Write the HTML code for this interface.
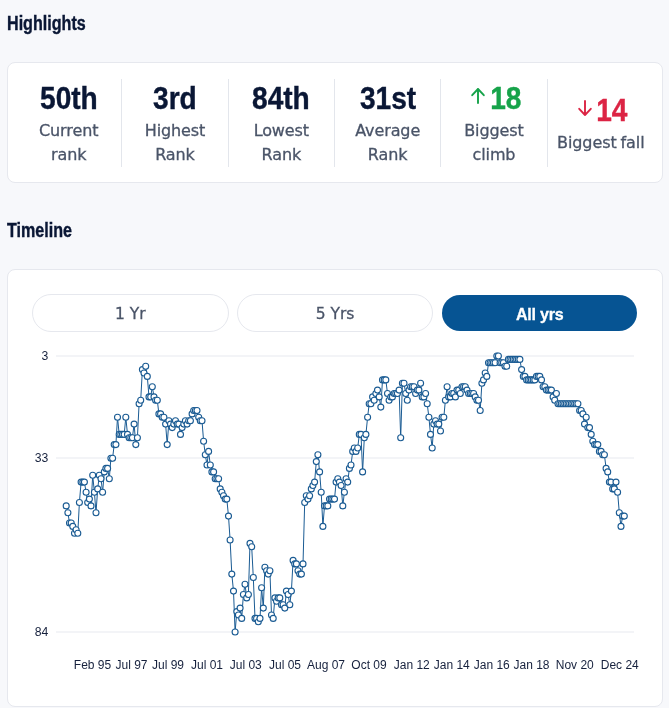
<!DOCTYPE html>
<html><head><meta charset="utf-8"><title>Highlights</title>
<style>
*{box-sizing:border-box;margin:0;padding:0}
html,body{width:669px;height:708px;overflow:hidden}
body{background:#f7f8fb;font-family:"Liberation Sans",sans-serif;position:relative;color:#4a5468}
h2{position:absolute;left:6.5px;-webkit-text-stroke:.4px #0a1735;font-size:20px;line-height:24px;font-weight:bold;color:#0a1735;transform-origin:0 50%;transform:scaleX(.805);white-space:nowrap}
.card{position:absolute;left:7px;width:656px;background:#fff;border:1px solid #e6e8ee;border-radius:8px}
#c1{top:62px;height:121px}
#c2{top:269px;height:438px}
.cols{position:absolute;left:8px;top:16px;width:638px;height:88px;display:flex}
.col{flex:none;width:106.333px;border-right:1px solid #e3e6ec;text-align:center;display:flex;flex-direction:column;justify-content:center}
.col:last-child{border-right:0}
.num{font-size:32px;line-height:36px;height:36px;font-weight:bold;color:#0a1735;white-space:nowrap;display:flex;justify-content:center;align-items:center}
.num span{display:inline-block;-webkit-text-stroke:.4px;transform:scaleX(.878);position:relative;top:1px}
.num svg{margin-right:1px;margin-left:-2px;position:relative;top:-1px}
.num.up svg{margin-left:-3px;margin-right:2px}
.num.down svg{margin-left:-1.5px;margin-right:.5px}
.num.up{padding-left:9px}.num.down{padding-left:6px}
.lbl{font-family:"DejaVu Sans","Liberation Sans",sans-serif;font-size:16px;letter-spacing:-.1px;word-spacing:-1px;-webkit-text-stroke:.3px #4a5468;line-height:24px;margin-top:4px;color:#4a5468}
.up{color:#16a34a}.down{color:#dc2444}
.btns{position:absolute;left:24px;top:24px;width:606px;display:flex;gap:8px}
.btn{flex:1 1 0;height:38px;-webkit-text-stroke:.3px;border:1px solid #e6e8ee;border-radius:19px;background:#fff;text-align:center;line-height:39px;font-family:"DejaVu Sans","Liberation Sans",sans-serif;font-size:15.5px;color:#4a5468}
.btn.on{background:#065493;border-color:transparent;background-clip:padding-box;color:#fff;font-weight:bold;font-family:"Liberation Sans",sans-serif;font-size:16px;letter-spacing:-.2px}
.chart{position:absolute;left:0;top:0}
.ax text{font-size:12px;fill:#16213d;font-family:"Liberation Sans",sans-serif}
.ay text{font-size:12.2px}
</style></head><body>
<h2 style="top:11px">Highlights</h2>
<div class="card" id="c1"><div class="cols">
<div class="col"><div class="num"><span>50th</span></div><div class="lbl">Current<br>rank</div></div>
<div class="col"><div class="num"><span>3rd</span></div><div class="lbl">Highest<br>Rank</div></div>
<div class="col"><div class="num"><span>84th</span></div><div class="lbl">Lowest<br>Rank</div></div>
<div class="col"><div class="num"><span>31st</span></div><div class="lbl">Average<br>Rank</div></div>
<div class="col"><div class="num up"><svg width="16" height="18" viewBox="0 0 16 18" fill="none" stroke="#16a34a" stroke-width="1.9" stroke-linecap="round" stroke-linejoin="round"><path d="M8 16V2M2.2 8.2L8 2l5.8 6.2"/></svg><span>18</span></div><div class="lbl">Biggest<br>climb</div></div>
<div class="col"><div class="num down"><svg width="16" height="18" viewBox="0 0 16 18" fill="none" stroke="#dc2444" stroke-width="1.9" stroke-linecap="round" stroke-linejoin="round"><path d="M8 2v14M2.2 9.8L8 16l5.8-6.2"/></svg><span>14</span></div><div class="lbl">Biggest fall</div></div>
</div></div>
<h2 style="top:218px">Timeline</h2>
<div class="card" id="c2"><div class="btns"><div class="btn">1 Yr</div><div class="btn">5 Yrs</div><div class="btn on">All yrs</div></div></div>
<svg class="chart" width="669" height="708" viewBox="0 0 669 708">
<g stroke="#e7e9f0" stroke-width="1.1"><line x1="56" x2="634" y1="356" y2="356"/><line x1="56" x2="634" y1="458" y2="458"/><line x1="56" x2="634" y1="632" y2="632"/></g>
<g class="ax ay" text-anchor="end"><text x="48.4" y="360">3</text><text x="48.4" y="462">33</text><text x="48.4" y="636">84</text></g>
<g class="ax"><text x="92.5" y="669.3" text-anchor="middle">Feb 95</text><text x="131.5" y="669.3" text-anchor="middle">Jul 97</text><text x="168" y="669.3" text-anchor="middle">Jul 99</text><text x="207" y="669.3" text-anchor="middle">Jul 01</text><text x="245.75" y="669.3" text-anchor="middle">Jul 03</text><text x="285" y="669.3" text-anchor="middle">Jul 05</text><text x="326" y="669.3" text-anchor="middle">Aug 07</text><text x="369" y="669.3" text-anchor="middle">Oct 09</text><text x="411.75" y="669.3" text-anchor="middle">Jan 12</text><text x="451.75" y="669.3" text-anchor="middle">Jan 14</text><text x="491.75" y="669.3" text-anchor="middle">Jan 16</text><text x="531.5" y="669.3" text-anchor="middle">Jan 18</text><text x="574.75" y="669.3" text-anchor="middle">Nov 20</text><text x="619.75" y="669.3" text-anchor="middle">Dec 24</text></g>
<polyline points="66.2,505.9 67.9,512.7 69.5,523.0 71.2,523.0 72.8,526.4 74.5,533.2 76.1,529.8 77.8,533.2 79.4,502.5 81.1,482.1 82.8,482.1 84.4,482.1 86.1,492.3 87.7,502.5 89.4,499.1 91.0,505.9 92.7,475.3 94.4,492.3 96.0,512.7 97.7,488.9 99.3,475.3 101.0,478.7 102.6,492.3 104.3,471.9 105.9,468.4 107.6,468.4 109.3,478.7 110.9,458.2 112.6,458.2 114.2,444.6 115.9,444.6 117.5,417.3 119.2,434.4 120.8,434.4 122.5,434.4 124.2,434.4 125.8,417.3 127.5,434.4 129.1,437.8 130.8,437.8 132.4,437.8 134.1,424.1 135.8,444.6 137.4,437.8 139.1,403.7 140.7,400.3 142.4,369.6 144.0,373.0 145.7,366.2 147.3,376.4 149.0,396.9 150.7,396.9 152.3,386.7 154.0,396.9 155.6,400.3 157.3,400.3 158.9,413.9 160.6,413.9 162.2,417.3 163.9,417.3 165.6,424.1 167.2,444.6 168.9,420.7 170.5,424.1 172.2,427.6 173.8,424.1 175.5,420.7 177.2,424.1 178.8,424.1 180.5,434.4 182.1,427.6 183.8,424.1 185.4,420.7 187.1,424.1 188.7,420.7 190.4,420.7 192.1,413.9 193.7,410.5 195.4,410.5 197.0,410.5 198.7,417.3 200.3,420.7 202.0,420.7 203.6,441.2 205.3,454.8 207.0,465.0 208.6,451.4 210.3,465.0 211.9,471.9 213.6,471.9 215.2,478.7 216.9,478.7 218.6,478.7 220.2,488.9 221.9,492.3 223.5,495.7 225.2,499.1 226.8,499.1 228.5,516.1 230.1,540.0 231.8,574.1 233.5,591.1 235.1,632.0 236.8,611.6 238.4,615.0 240.1,608.1 241.7,618.4 243.4,594.5 245.0,584.3 246.7,597.9 248.4,594.5 250.0,543.4 251.7,546.8 253.3,577.5 255.0,618.4 256.6,618.4 258.3,621.8 260.0,618.4 261.6,587.7 263.3,608.1 264.9,567.3 266.6,570.7 268.2,574.1 269.9,570.7 271.5,615.0 273.2,618.4 274.9,597.9 276.5,601.3 278.2,597.9 279.8,597.9 281.5,604.7 283.1,604.7 284.8,608.1 286.4,591.1 288.1,594.5 289.8,604.7 291.4,591.1 293.1,560.4 294.7,563.9 296.4,563.9 298.0,570.7 299.7,574.1 301.4,574.1 303.0,563.9 304.7,502.5 306.3,495.7 308.0,499.1 309.6,495.7 311.3,488.9 312.9,485.5 314.6,482.1 316.3,461.6 317.9,454.8 319.6,471.9 321.2,492.3 322.9,526.4 324.5,505.9 326.2,505.9 327.8,505.9 329.5,499.1 331.2,499.1 332.8,499.1 334.5,499.1 336.1,482.1 337.8,478.7 339.4,482.1 341.1,485.5 342.8,505.9 344.4,492.3 346.1,478.7 347.7,482.1 349.4,468.4 351.0,465.0 352.7,451.4 354.3,448.0 356.0,451.4 357.7,448.0 359.3,434.4 361.0,434.4 362.6,471.9 364.3,437.8 365.9,434.4 367.6,417.3 369.2,403.7 370.9,403.7 372.6,396.9 374.2,400.3 375.9,393.5 377.5,390.1 379.2,396.9 380.8,407.1 382.5,379.9 384.2,379.9 385.8,379.9 387.5,393.5 389.1,400.3 390.8,396.9 392.4,396.9 394.1,393.5 395.7,393.5 397.4,393.5 399.1,390.1 400.7,437.8 402.4,383.3 404.0,383.3 405.7,393.5 407.3,400.3 409.0,390.1 410.6,386.7 412.3,386.7 414.0,386.7 415.6,393.5 417.3,390.1 418.9,390.1 420.6,383.3 422.2,396.9 423.9,396.9 425.6,393.5 427.2,403.7 428.9,417.3 430.5,434.4 432.2,448.0 433.8,424.1 435.5,420.7 437.1,424.1 438.8,424.1 440.5,431.0 442.1,417.3 443.8,417.3 445.4,400.3 447.1,386.7 448.7,396.9 450.4,396.9 452.0,393.5 453.7,393.5 455.4,396.9 457.0,390.1 458.7,390.1 460.3,393.5 462.0,386.7 463.6,386.7 465.3,386.7 467.0,390.1 468.6,393.5 470.3,393.5 471.9,393.5 473.6,393.5 475.2,396.9 476.9,400.3 478.5,400.3 480.2,410.5 481.9,383.3 483.5,379.9 485.2,373.0 486.8,376.4 488.5,362.8 490.1,362.8 491.8,362.8 493.4,362.8 495.1,362.8 496.8,356.0 498.4,356.0 500.1,362.8 501.7,362.8 503.4,362.8 505.0,366.2 506.7,366.2 508.4,359.4 510.0,359.4 511.7,359.4 513.3,359.4 515.0,359.4 516.6,359.4 518.3,359.4 519.9,359.4 521.6,369.6 523.3,376.4 524.9,376.4 526.6,379.9 528.2,379.9 529.9,379.9 531.5,379.9 533.2,379.9 534.8,379.9 536.5,376.4 538.2,376.4 539.8,376.4 541.5,379.9 543.1,386.7 544.8,386.7 546.4,390.1 548.1,390.1 549.8,390.1 551.4,390.1 553.1,396.9 554.7,400.3 556.4,393.5 558.0,403.7 559.7,403.7 561.3,403.7 563.0,403.7 564.7,403.7 566.3,403.7 568.0,403.7 569.6,403.7 571.3,403.7 572.9,403.7 574.6,403.7 576.2,403.7 577.9,403.7 579.6,410.5 581.2,410.5 582.9,413.9 584.5,424.1 586.2,417.3 587.8,427.6 589.5,427.6 591.2,434.4 592.8,441.2 594.5,444.6 596.1,444.6 597.8,444.6 599.4,451.4 601.1,451.4 602.7,454.8 604.4,454.8 606.1,468.4 607.7,471.9 609.4,482.1 611.0,482.1 612.7,488.9 614.3,488.9 616.0,482.1 617.6,492.3 619.3,512.7 621.0,526.4 622.6,516.1 624.3,516.1" fill="none" stroke="#1a5b93" stroke-width="1"/>
<g fill="#fff" stroke="#1a5b93" stroke-width="1.1"><circle cx="66.2" cy="505.9" r="3"/><circle cx="67.9" cy="512.7" r="3"/><circle cx="69.5" cy="523.0" r="3"/><circle cx="71.2" cy="523.0" r="3"/><circle cx="72.8" cy="526.4" r="3"/><circle cx="74.5" cy="533.2" r="3"/><circle cx="76.1" cy="529.8" r="3"/><circle cx="77.8" cy="533.2" r="3"/><circle cx="79.4" cy="502.5" r="3"/><circle cx="81.1" cy="482.1" r="3"/><circle cx="82.8" cy="482.1" r="3"/><circle cx="84.4" cy="482.1" r="3"/><circle cx="86.1" cy="492.3" r="3"/><circle cx="87.7" cy="502.5" r="3"/><circle cx="89.4" cy="499.1" r="3"/><circle cx="91.0" cy="505.9" r="3"/><circle cx="92.7" cy="475.3" r="3"/><circle cx="94.4" cy="492.3" r="3"/><circle cx="96.0" cy="512.7" r="3"/><circle cx="97.7" cy="488.9" r="3"/><circle cx="99.3" cy="475.3" r="3"/><circle cx="101.0" cy="478.7" r="3"/><circle cx="102.6" cy="492.3" r="3"/><circle cx="104.3" cy="471.9" r="3"/><circle cx="105.9" cy="468.4" r="3"/><circle cx="107.6" cy="468.4" r="3"/><circle cx="109.3" cy="478.7" r="3"/><circle cx="110.9" cy="458.2" r="3"/><circle cx="112.6" cy="458.2" r="3"/><circle cx="114.2" cy="444.6" r="3"/><circle cx="115.9" cy="444.6" r="3"/><circle cx="117.5" cy="417.3" r="3"/><circle cx="119.2" cy="434.4" r="3"/><circle cx="120.8" cy="434.4" r="3"/><circle cx="122.5" cy="434.4" r="3"/><circle cx="124.2" cy="434.4" r="3"/><circle cx="125.8" cy="417.3" r="3"/><circle cx="127.5" cy="434.4" r="3"/><circle cx="129.1" cy="437.8" r="3"/><circle cx="130.8" cy="437.8" r="3"/><circle cx="132.4" cy="437.8" r="3"/><circle cx="134.1" cy="424.1" r="3"/><circle cx="135.8" cy="444.6" r="3"/><circle cx="137.4" cy="437.8" r="3"/><circle cx="139.1" cy="403.7" r="3"/><circle cx="140.7" cy="400.3" r="3"/><circle cx="142.4" cy="369.6" r="3"/><circle cx="144.0" cy="373.0" r="3"/><circle cx="145.7" cy="366.2" r="3"/><circle cx="147.3" cy="376.4" r="3"/><circle cx="149.0" cy="396.9" r="3"/><circle cx="150.7" cy="396.9" r="3"/><circle cx="152.3" cy="386.7" r="3"/><circle cx="154.0" cy="396.9" r="3"/><circle cx="155.6" cy="400.3" r="3"/><circle cx="157.3" cy="400.3" r="3"/><circle cx="158.9" cy="413.9" r="3"/><circle cx="160.6" cy="413.9" r="3"/><circle cx="162.2" cy="417.3" r="3"/><circle cx="163.9" cy="417.3" r="3"/><circle cx="165.6" cy="424.1" r="3"/><circle cx="167.2" cy="444.6" r="3"/><circle cx="168.9" cy="420.7" r="3"/><circle cx="170.5" cy="424.1" r="3"/><circle cx="172.2" cy="427.6" r="3"/><circle cx="173.8" cy="424.1" r="3"/><circle cx="175.5" cy="420.7" r="3"/><circle cx="177.2" cy="424.1" r="3"/><circle cx="178.8" cy="424.1" r="3"/><circle cx="180.5" cy="434.4" r="3"/><circle cx="182.1" cy="427.6" r="3"/><circle cx="183.8" cy="424.1" r="3"/><circle cx="185.4" cy="420.7" r="3"/><circle cx="187.1" cy="424.1" r="3"/><circle cx="188.7" cy="420.7" r="3"/><circle cx="190.4" cy="420.7" r="3"/><circle cx="192.1" cy="413.9" r="3"/><circle cx="193.7" cy="410.5" r="3"/><circle cx="195.4" cy="410.5" r="3"/><circle cx="197.0" cy="410.5" r="3"/><circle cx="198.7" cy="417.3" r="3"/><circle cx="200.3" cy="420.7" r="3"/><circle cx="202.0" cy="420.7" r="3"/><circle cx="203.6" cy="441.2" r="3"/><circle cx="205.3" cy="454.8" r="3"/><circle cx="207.0" cy="465.0" r="3"/><circle cx="208.6" cy="451.4" r="3"/><circle cx="210.3" cy="465.0" r="3"/><circle cx="211.9" cy="471.9" r="3"/><circle cx="213.6" cy="471.9" r="3"/><circle cx="215.2" cy="478.7" r="3"/><circle cx="216.9" cy="478.7" r="3"/><circle cx="218.6" cy="478.7" r="3"/><circle cx="220.2" cy="488.9" r="3"/><circle cx="221.9" cy="492.3" r="3"/><circle cx="223.5" cy="495.7" r="3"/><circle cx="225.2" cy="499.1" r="3"/><circle cx="226.8" cy="499.1" r="3"/><circle cx="228.5" cy="516.1" r="3"/><circle cx="230.1" cy="540.0" r="3"/><circle cx="231.8" cy="574.1" r="3"/><circle cx="233.5" cy="591.1" r="3"/><circle cx="235.1" cy="632.0" r="3"/><circle cx="236.8" cy="611.6" r="3"/><circle cx="238.4" cy="615.0" r="3"/><circle cx="240.1" cy="608.1" r="3"/><circle cx="241.7" cy="618.4" r="3"/><circle cx="243.4" cy="594.5" r="3"/><circle cx="245.0" cy="584.3" r="3"/><circle cx="246.7" cy="597.9" r="3"/><circle cx="248.4" cy="594.5" r="3"/><circle cx="250.0" cy="543.4" r="3"/><circle cx="251.7" cy="546.8" r="3"/><circle cx="253.3" cy="577.5" r="3"/><circle cx="255.0" cy="618.4" r="3"/><circle cx="256.6" cy="618.4" r="3"/><circle cx="258.3" cy="621.8" r="3"/><circle cx="260.0" cy="618.4" r="3"/><circle cx="261.6" cy="587.7" r="3"/><circle cx="263.3" cy="608.1" r="3"/><circle cx="264.9" cy="567.3" r="3"/><circle cx="266.6" cy="570.7" r="3"/><circle cx="268.2" cy="574.1" r="3"/><circle cx="269.9" cy="570.7" r="3"/><circle cx="271.5" cy="615.0" r="3"/><circle cx="273.2" cy="618.4" r="3"/><circle cx="274.9" cy="597.9" r="3"/><circle cx="276.5" cy="601.3" r="3"/><circle cx="278.2" cy="597.9" r="3"/><circle cx="279.8" cy="597.9" r="3"/><circle cx="281.5" cy="604.7" r="3"/><circle cx="283.1" cy="604.7" r="3"/><circle cx="284.8" cy="608.1" r="3"/><circle cx="286.4" cy="591.1" r="3"/><circle cx="288.1" cy="594.5" r="3"/><circle cx="289.8" cy="604.7" r="3"/><circle cx="291.4" cy="591.1" r="3"/><circle cx="293.1" cy="560.4" r="3"/><circle cx="294.7" cy="563.9" r="3"/><circle cx="296.4" cy="563.9" r="3"/><circle cx="298.0" cy="570.7" r="3"/><circle cx="299.7" cy="574.1" r="3"/><circle cx="301.4" cy="574.1" r="3"/><circle cx="303.0" cy="563.9" r="3"/><circle cx="304.7" cy="502.5" r="3"/><circle cx="306.3" cy="495.7" r="3"/><circle cx="308.0" cy="499.1" r="3"/><circle cx="309.6" cy="495.7" r="3"/><circle cx="311.3" cy="488.9" r="3"/><circle cx="312.9" cy="485.5" r="3"/><circle cx="314.6" cy="482.1" r="3"/><circle cx="316.3" cy="461.6" r="3"/><circle cx="317.9" cy="454.8" r="3"/><circle cx="319.6" cy="471.9" r="3"/><circle cx="321.2" cy="492.3" r="3"/><circle cx="322.9" cy="526.4" r="3"/><circle cx="324.5" cy="505.9" r="3"/><circle cx="326.2" cy="505.9" r="3"/><circle cx="327.8" cy="505.9" r="3"/><circle cx="329.5" cy="499.1" r="3"/><circle cx="331.2" cy="499.1" r="3"/><circle cx="332.8" cy="499.1" r="3"/><circle cx="334.5" cy="499.1" r="3"/><circle cx="336.1" cy="482.1" r="3"/><circle cx="337.8" cy="478.7" r="3"/><circle cx="339.4" cy="482.1" r="3"/><circle cx="341.1" cy="485.5" r="3"/><circle cx="342.8" cy="505.9" r="3"/><circle cx="344.4" cy="492.3" r="3"/><circle cx="346.1" cy="478.7" r="3"/><circle cx="347.7" cy="482.1" r="3"/><circle cx="349.4" cy="468.4" r="3"/><circle cx="351.0" cy="465.0" r="3"/><circle cx="352.7" cy="451.4" r="3"/><circle cx="354.3" cy="448.0" r="3"/><circle cx="356.0" cy="451.4" r="3"/><circle cx="357.7" cy="448.0" r="3"/><circle cx="359.3" cy="434.4" r="3"/><circle cx="361.0" cy="434.4" r="3"/><circle cx="362.6" cy="471.9" r="3"/><circle cx="364.3" cy="437.8" r="3"/><circle cx="365.9" cy="434.4" r="3"/><circle cx="367.6" cy="417.3" r="3"/><circle cx="369.2" cy="403.7" r="3"/><circle cx="370.9" cy="403.7" r="3"/><circle cx="372.6" cy="396.9" r="3"/><circle cx="374.2" cy="400.3" r="3"/><circle cx="375.9" cy="393.5" r="3"/><circle cx="377.5" cy="390.1" r="3"/><circle cx="379.2" cy="396.9" r="3"/><circle cx="380.8" cy="407.1" r="3"/><circle cx="382.5" cy="379.9" r="3"/><circle cx="384.2" cy="379.9" r="3"/><circle cx="385.8" cy="379.9" r="3"/><circle cx="387.5" cy="393.5" r="3"/><circle cx="389.1" cy="400.3" r="3"/><circle cx="390.8" cy="396.9" r="3"/><circle cx="392.4" cy="396.9" r="3"/><circle cx="394.1" cy="393.5" r="3"/><circle cx="395.7" cy="393.5" r="3"/><circle cx="397.4" cy="393.5" r="3"/><circle cx="399.1" cy="390.1" r="3"/><circle cx="400.7" cy="437.8" r="3"/><circle cx="402.4" cy="383.3" r="3"/><circle cx="404.0" cy="383.3" r="3"/><circle cx="405.7" cy="393.5" r="3"/><circle cx="407.3" cy="400.3" r="3"/><circle cx="409.0" cy="390.1" r="3"/><circle cx="410.6" cy="386.7" r="3"/><circle cx="412.3" cy="386.7" r="3"/><circle cx="414.0" cy="386.7" r="3"/><circle cx="415.6" cy="393.5" r="3"/><circle cx="417.3" cy="390.1" r="3"/><circle cx="418.9" cy="390.1" r="3"/><circle cx="420.6" cy="383.3" r="3"/><circle cx="422.2" cy="396.9" r="3"/><circle cx="423.9" cy="396.9" r="3"/><circle cx="425.6" cy="393.5" r="3"/><circle cx="427.2" cy="403.7" r="3"/><circle cx="428.9" cy="417.3" r="3"/><circle cx="430.5" cy="434.4" r="3"/><circle cx="432.2" cy="448.0" r="3"/><circle cx="433.8" cy="424.1" r="3"/><circle cx="435.5" cy="420.7" r="3"/><circle cx="437.1" cy="424.1" r="3"/><circle cx="438.8" cy="424.1" r="3"/><circle cx="440.5" cy="431.0" r="3"/><circle cx="442.1" cy="417.3" r="3"/><circle cx="443.8" cy="417.3" r="3"/><circle cx="445.4" cy="400.3" r="3"/><circle cx="447.1" cy="386.7" r="3"/><circle cx="448.7" cy="396.9" r="3"/><circle cx="450.4" cy="396.9" r="3"/><circle cx="452.0" cy="393.5" r="3"/><circle cx="453.7" cy="393.5" r="3"/><circle cx="455.4" cy="396.9" r="3"/><circle cx="457.0" cy="390.1" r="3"/><circle cx="458.7" cy="390.1" r="3"/><circle cx="460.3" cy="393.5" r="3"/><circle cx="462.0" cy="386.7" r="3"/><circle cx="463.6" cy="386.7" r="3"/><circle cx="465.3" cy="386.7" r="3"/><circle cx="467.0" cy="390.1" r="3"/><circle cx="468.6" cy="393.5" r="3"/><circle cx="470.3" cy="393.5" r="3"/><circle cx="471.9" cy="393.5" r="3"/><circle cx="473.6" cy="393.5" r="3"/><circle cx="475.2" cy="396.9" r="3"/><circle cx="476.9" cy="400.3" r="3"/><circle cx="478.5" cy="400.3" r="3"/><circle cx="480.2" cy="410.5" r="3"/><circle cx="481.9" cy="383.3" r="3"/><circle cx="483.5" cy="379.9" r="3"/><circle cx="485.2" cy="373.0" r="3"/><circle cx="486.8" cy="376.4" r="3"/><circle cx="488.5" cy="362.8" r="3"/><circle cx="490.1" cy="362.8" r="3"/><circle cx="491.8" cy="362.8" r="3"/><circle cx="493.4" cy="362.8" r="3"/><circle cx="495.1" cy="362.8" r="3"/><circle cx="496.8" cy="356.0" r="3"/><circle cx="498.4" cy="356.0" r="3"/><circle cx="500.1" cy="362.8" r="3"/><circle cx="501.7" cy="362.8" r="3"/><circle cx="503.4" cy="362.8" r="3"/><circle cx="505.0" cy="366.2" r="3"/><circle cx="506.7" cy="366.2" r="3"/><circle cx="508.4" cy="359.4" r="3"/><circle cx="510.0" cy="359.4" r="3"/><circle cx="511.7" cy="359.4" r="3"/><circle cx="513.3" cy="359.4" r="3"/><circle cx="515.0" cy="359.4" r="3"/><circle cx="516.6" cy="359.4" r="3"/><circle cx="518.3" cy="359.4" r="3"/><circle cx="519.9" cy="359.4" r="3"/><circle cx="521.6" cy="369.6" r="3"/><circle cx="523.3" cy="376.4" r="3"/><circle cx="524.9" cy="376.4" r="3"/><circle cx="526.6" cy="379.9" r="3"/><circle cx="528.2" cy="379.9" r="3"/><circle cx="529.9" cy="379.9" r="3"/><circle cx="531.5" cy="379.9" r="3"/><circle cx="533.2" cy="379.9" r="3"/><circle cx="534.8" cy="379.9" r="3"/><circle cx="536.5" cy="376.4" r="3"/><circle cx="538.2" cy="376.4" r="3"/><circle cx="539.8" cy="376.4" r="3"/><circle cx="541.5" cy="379.9" r="3"/><circle cx="543.1" cy="386.7" r="3"/><circle cx="544.8" cy="386.7" r="3"/><circle cx="546.4" cy="390.1" r="3"/><circle cx="548.1" cy="390.1" r="3"/><circle cx="549.8" cy="390.1" r="3"/><circle cx="551.4" cy="390.1" r="3"/><circle cx="553.1" cy="396.9" r="3"/><circle cx="554.7" cy="400.3" r="3"/><circle cx="556.4" cy="393.5" r="3"/><circle cx="558.0" cy="403.7" r="3"/><circle cx="559.7" cy="403.7" r="3"/><circle cx="561.3" cy="403.7" r="3"/><circle cx="563.0" cy="403.7" r="3"/><circle cx="564.7" cy="403.7" r="3"/><circle cx="566.3" cy="403.7" r="3"/><circle cx="568.0" cy="403.7" r="3"/><circle cx="569.6" cy="403.7" r="3"/><circle cx="571.3" cy="403.7" r="3"/><circle cx="572.9" cy="403.7" r="3"/><circle cx="574.6" cy="403.7" r="3"/><circle cx="576.2" cy="403.7" r="3"/><circle cx="577.9" cy="403.7" r="3"/><circle cx="579.6" cy="410.5" r="3"/><circle cx="581.2" cy="410.5" r="3"/><circle cx="582.9" cy="413.9" r="3"/><circle cx="584.5" cy="424.1" r="3"/><circle cx="586.2" cy="417.3" r="3"/><circle cx="587.8" cy="427.6" r="3"/><circle cx="589.5" cy="427.6" r="3"/><circle cx="591.2" cy="434.4" r="3"/><circle cx="592.8" cy="441.2" r="3"/><circle cx="594.5" cy="444.6" r="3"/><circle cx="596.1" cy="444.6" r="3"/><circle cx="597.8" cy="444.6" r="3"/><circle cx="599.4" cy="451.4" r="3"/><circle cx="601.1" cy="451.4" r="3"/><circle cx="602.7" cy="454.8" r="3"/><circle cx="604.4" cy="454.8" r="3"/><circle cx="606.1" cy="468.4" r="3"/><circle cx="607.7" cy="471.9" r="3"/><circle cx="609.4" cy="482.1" r="3"/><circle cx="611.0" cy="482.1" r="3"/><circle cx="612.7" cy="488.9" r="3"/><circle cx="614.3" cy="488.9" r="3"/><circle cx="616.0" cy="482.1" r="3"/><circle cx="617.6" cy="492.3" r="3"/><circle cx="619.3" cy="512.7" r="3"/><circle cx="621.0" cy="526.4" r="3"/><circle cx="622.6" cy="516.1" r="3"/><circle cx="624.3" cy="516.1" r="3"/></g>
</svg>
</body></html>
